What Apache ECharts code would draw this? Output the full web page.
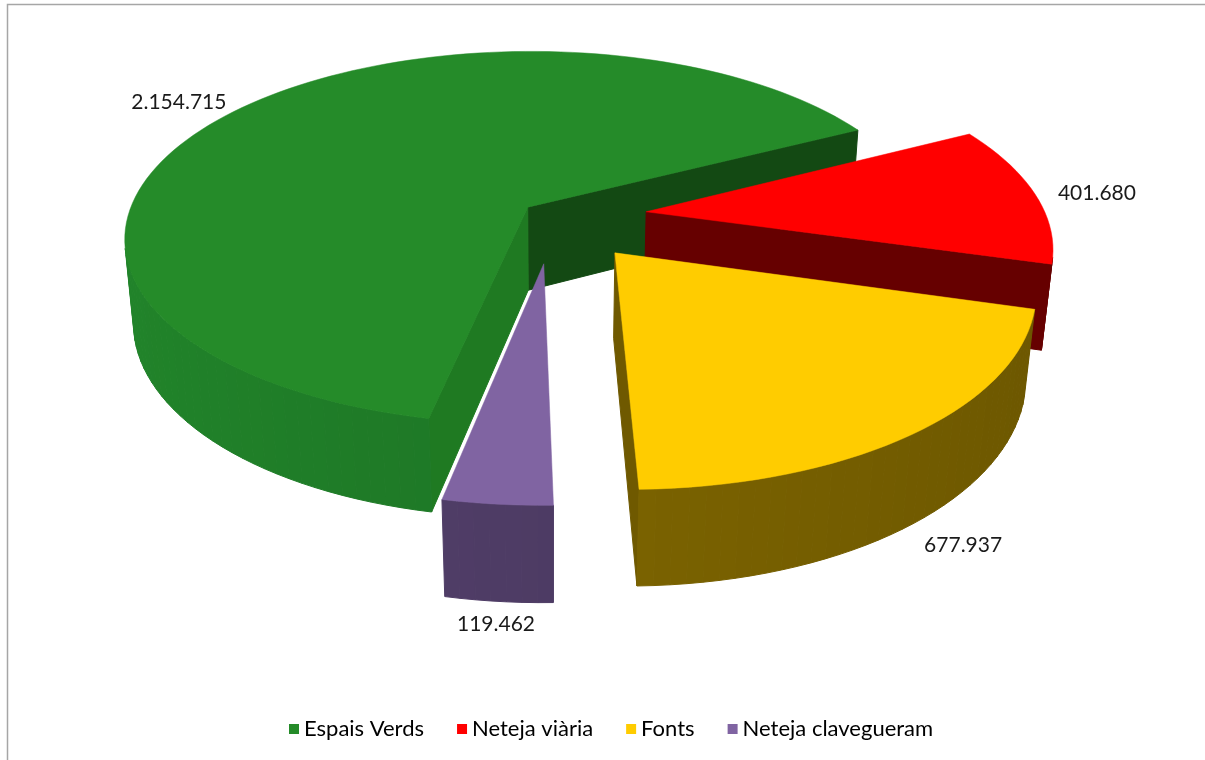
<!DOCTYPE html>
<html>
<head>
<meta charset="utf-8">
<title>Despesa per servei</title>
<script src="https://cdn.jsdelivr.net/npm/echarts@6/dist/echarts.min.js"></script>
<style>
    html, body { margin: 0; padding: 0; background: #fff; }
    #chart { width: 1205px; height: 760px; }
</style>
</head>
<body>
<div id="chart"></div>
<script>
var categories = ['Espais Verds', 'Neteja viària', 'Fonts', 'Neteja clavegueram'];
var values = [2154715, 401680, 677937, 119462];

// colors de cada porció (cara superior, paret, cares laterals)
var topColors = ['#258B29', '#FF0000', '#FFCC00', '#8064A2'];
var wallColors = ['#21842A', '#800000', '#886D00', '#56426F'];
var startFaceColors = ['#1F7A22', '#700000', '#6A5500', '#4A3860'];
var endFaceColors = ['#134913', '#660000', '#6F5900', '#4A3860'];
var explode = [0.08, 0.235, 0.245, 0.25];

// vista 3D: centre, escala, inclinació, perspectiva, gruix, angle inicial
var view = { cx: 553, cy: 216, k: 400, tilt: 27.4, dist: 5.4, height: 0.24, start: 191.5,
             labelBack: 1.06, labelFront: 1.05 };

var rad = Math.PI / 180;
var se = Math.sin(view.tilt * rad), ce = Math.cos(view.tilt * rad);
var cam = [0, view.dist * se, -view.dist * ce];
var total = values.reduce(function (a, b) { return a + b; }, 0);

function proj(x, y, z) {
    var v = z * se + y * ce;
    var w = z * ce - y * se;
    var s = view.dist / (view.dist + w);
    return [view.cx + view.k * x * s, view.cy - view.k * v * s];
}
function depthZ(x, y, z) {
    return Math.round(1000 - (z * ce - y * se) * 100);
}
function shade(hex, f) {
    var n = parseInt(hex.slice(1), 16);
    var r = Math.min(255, Math.round((n >> 16 & 255) * f));
    var g = Math.min(255, Math.round((n >> 8 & 255) * f));
    var b = Math.min(255, Math.round((n & 255) * f));
    return 'rgb(' + r + ',' + g + ',' + b + ')';
}
function fmt(v) {
    return String(v).replace(/\B(?=(\d{3})+(?!\d))/g, '.');
}
function quad(a, b, c, d, col, z2) {
    return { type: 'polygon', z2: z2, shape: { points: [a, b, c, d] },
             style: { fill: col, stroke: col, lineWidth: 1 } };
}

function renderSlice(params, api) {
    var i = params.seriesIndex;
    var val = api.value(0);
    var before = 0;
    for (var j = 0; j < i; j++) before += values[j];
    var a0 = view.start + before / total * 360;
    var a1 = a0 + val / total * 360;
    var mid = (a0 + a1) / 2;
    var ox = explode[i] * Math.sin(mid * rad), oz = explode[i] * Math.cos(mid * rad);
    var h = view.height;
    var children = [];

    var steps = Math.max(2, Math.ceil((a1 - a0) / 2));
    var rim = [];
    for (var k = 0; k <= steps; k++) {
        var a = (a0 + (a1 - a0) * k / steps) * rad;
        rim.push([ox + Math.sin(a), oz + Math.cos(a), a]);
    }

    // paret exterior
    for (k = 0; k < steps; k++) {
        var p = rim[k], q = rim[k + 1];
        var am = (p[2] + q[2]) / 2;
        var nx = Math.sin(am), nz = Math.cos(am);
        var mx = (p[0] + q[0]) / 2, mz = (p[1] + q[1]) / 2;
        if ((cam[0] - mx) * nx + (cam[2] - mz) * nz <= 0) continue;
        var col = shade(wallColors[i], 0.9 - 0.1 * nx);
        children.push(quad(proj(p[0], 0, p[1]), proj(q[0], 0, q[1]),
            proj(q[0], -h, q[1]), proj(p[0], -h, p[1]), col, depthZ(mx, -h / 2, mz)));
    }

    // cares radials
    var faces = [
        { r: rim[0], n: [-Math.cos(a0 * rad), Math.sin(a0 * rad)], col: startFaceColors[i] },
        { r: rim[steps], n: [Math.cos(a1 * rad), -Math.sin(a1 * rad)], col: endFaceColors[i] }
    ];
    faces.forEach(function (fc) {
        var cx = (ox + fc.r[0]) / 2, cz = (oz + fc.r[1]) / 2;
        if ((cam[0] - cx) * fc.n[0] + (cam[2] - cz) * fc.n[1] <= 0) return;
        children.push(quad(proj(ox, 0, oz), proj(fc.r[0], 0, fc.r[1]),
            proj(fc.r[0], -h, fc.r[1]), proj(ox, -h, oz), fc.col, depthZ(cx, -h / 2, cz)));
    });

    // cara superior
    var topPts = [proj(ox, 0, oz)];
    rim.forEach(function (r) { topPts.push(proj(r[0], 0, r[1])); });
    children.push({ type: 'polygon', z2: 3000, shape: { points: topPts },
        style: { fill: topColors[i], stroke: topColors[i], lineWidth: 0.5 } });

    // etiqueta
    var cm = Math.cos(mid * rad), sm = Math.sin(mid * rad);
    var lr = cm >= 0 ? view.labelBack : view.labelFront;
    var ly = cm >= 0 ? 0 : -h - 0.02;
    var lp = proj(ox + lr * sm, ly, oz + lr * cm);
    var align = Math.abs(sm) < 0.3 ? 'center' : (sm < 0 ? 'right' : 'left');
    children.push({ type: 'text', z2: 4000, x: lp[0], y: lp[1],
        style: { text: fmt(val), fill: '#1a1a1a', font: '21px Lato', align: align, verticalAlign: 'middle' } });

    return { type: 'group', children: children };
}

var chart = echarts.init(document.getElementById('chart'));

var series = categories.map(function (name, i) {
    return {
        name: name,
        type: 'custom',
        coordinateSystem: 'none',
        renderItem: renderSlice,
        data: [[values[i]]]
    };
});

var option = {
    animation: false,
    backgroundColor: '#fff',
    color: topColors,
    legend: {
        data: categories,
        left: 284,
        top: 713,
        icon: 'rect',
        itemWidth: 10,
        itemHeight: 10,
        itemGap: 33,
        textStyle: { fontFamily: 'Lato', fontSize: 22, color: '#000' }
    },
    graphic: [{
        type: 'rect',
        silent: true,
        z: -1,
        shape: { x: 7.5, y: 4.5, width: 1300, height: 900 },
        style: { fill: 'none', stroke: '#A6A6A6', lineWidth: 1.5 }
    }],
    series: series
};

chart.setOption(option);
</script>
</body>
</html>
